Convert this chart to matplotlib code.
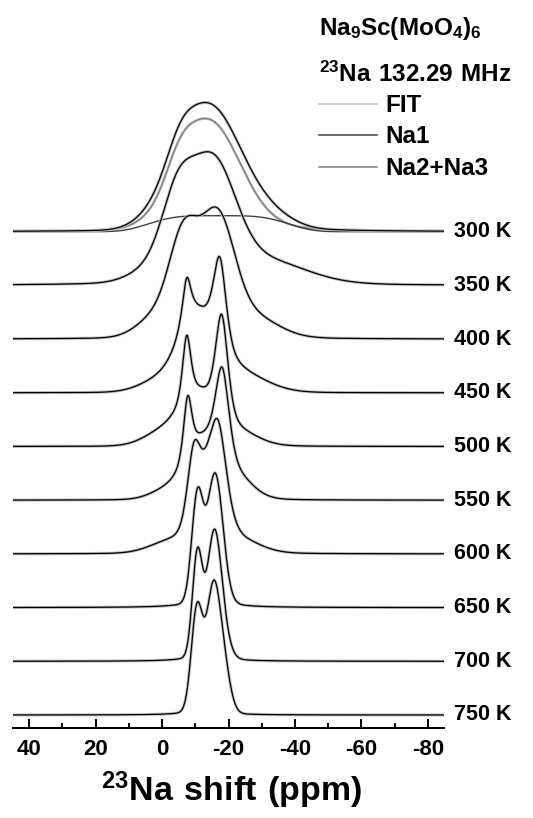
import numpy as np
import matplotlib.pyplot as plt
from matplotlib import transforms
from matplotlib.ticker import MultipleLocator

plt.rcParams['font.family'] = ['Liberation Sans', 'DejaVu Sans']
plt.rcParams['font.weight'] = 'bold'
plt.rcParams['mathtext.fontset'] = 'custom'
plt.rcParams['mathtext.bf'] = 'Liberation Sans:bold'
plt.rcParams['mathtext.rm'] = 'Liberation Sans:bold'
plt.rcParams['axes.unicode_minus'] = False

temps = [300, 350, 400, 450, 500, 550, 600, 650, 700, 750]

# line components: (shift ppm, fwhm ppm, height, lorentz fraction)
peaks_300K = [(-13.5, 22, 104, 0), (-5, 9, 18, 0), (-22, 30, 10, 1)]   # Na2+Na3 part
na1_300K = (-17, 21, 16)   # flat-topped Na1 line: centre, half width, height
peaks_350K = [(-15, 16, 108, 0), (-4.5, 11, 62, 0), (2, 16, 15, 0), (-30, 30, 22, 0), (-15, 40, 8, 1)]
peaks_400K = [(-16.5, 12, 112, 0), (-6.5, 10, 88, 0), (1, 14, 22, 0), (-27, 18, 20, 0), (-15, 30, 6, 1)]
peaks_450K = [(-11, 13, 62, 0), (-7.4, 3.5, 52, 1), (-17.4, 4.5, 85, 0.5), (-22, 20, 20, 0), (0, 15, 12, 0)]
peaks_500K = [(-11, 12, 45, 0), (-7.4, 3, 65, 0.6), (-17.95, 4.5, 105, 0.5), (-23, 14, 12, 0), (-1, 14, 15, 0)]
peaks_550K = [(-12, 11, 52, 0), (-7.7, 3, 62, 0.6), (-18.1, 5, 95, 0.5), (-22, 12, 20, 0), (-2, 12, 10, 0)]
peaks_600K = [(-14, 9, 58, 0), (-9.5, 4.5, 65, 0.3), (-17, 6, 77, 0.5), (-13, 22, 8, 0), (-24, 14, 8, 0), (-2, 14, 8, 0)]
peaks_650K = [(-10.6, 4, 103, 0), (-16, 5.5, 125, 0), (-14, 12, 10, 1)]
peaks_700K = [(-10.6, 3.5, 100, 0), (-15.7, 5, 118, 0), (-18.5, 5, 15, 0), (-13.5, 10, 9, 1)]
peaks_750K = [(-10.5, 4, 100, 0), (-15.2, 4.5, 100, 0), (-18, 5, 55, 0), (-13, 8, 10, 1)]

spectra = [peaks_300K, peaks_350K, peaks_400K, peaks_450K, peaks_500K,
           peaks_550K, peaks_600K, peaks_650K, peaks_700K, peaks_750K]


def pv(x, c, fwhm, h, eta):
    g = np.exp(-4 * np.log(2) * ((x - c) / fwhm) ** 2)
    l = 1 / (1 + (2 * (x - c) / fwhm) ** 2)
    return h * (eta * l + (1 - eta) * g)


def line_sum(x, peaks):
    return sum(pv(x, *p) for p in peaks)


ppm = np.linspace(45, -85, 1500)
step = 53.7

fig = plt.figure(figsize=(5.33, 8.18), dpi=100)
ax = fig.add_axes([12.7 / 533, (818 - 727.7) / 818, 431.6 / 533, 727.7 / 818])

n = len(temps)
trans = transforms.blended_transform_factory(ax.transAxes, ax.transData)
for i, (T, peaks) in enumerate(zip(temps, spectra)):
    off = (n - 1 - i) * step
    y = line_sum(ppm, peaks)
    if i == 0:
        c, hw, h = na1_300K
        na1 = h * np.exp(-np.log(2) * ((ppm - c) / hw) ** 4)
        na23 = y
        y = na1 + na23
        ax.plot(ppm, na23 + off, color='#c8c8c8', lw=2.0)
        ax.plot(ppm, na23 + off, color='#808080', lw=1.0)
        ax.plot(ppm, na1 + off, color='#404040', lw=1.0)
    ax.plot(ppm, y + off, color='#c0c0c0', lw=2.2)
    ax.plot(ppm, y + off, color='black', lw=0.9)
    ax.text(1.022, off, f'{T} K', transform=trans, ha='left', va='center',
            fontsize=15.5, fontweight='bold', clip_on=False)

ax.set_xlim(45, -85)
ax.set_ylim(-12.7, 715)
for s in ['left', 'right', 'top']:
    ax.spines[s].set_visible(False)
ax.spines['bottom'].set_linewidth(1.4)
ax.set_yticks([])
ax.xaxis.set_major_locator(MultipleLocator(20))
ax.xaxis.set_minor_locator(MultipleLocator(10))
ax.tick_params(axis='x', which='major', direction='in', length=6.5, width=1.4,
               labelsize=16, pad=8)
ax.tick_params(axis='x', which='minor', direction='in', length=3.6, width=1.4)
for lab in ax.get_xticklabels():
    lab.set_fontweight('bold')

fig.text(232 / 533, 1 - 790 / 818, r'$\mathbf{^{23}Na\ shift\ (ppm)}$',
         ha='center', va='center', fontsize=24.5)

# legend block
fig.text(319 / 533, 1 - 35 / 818, r'$\mathbf{Na_9Sc(MoO_4)_6}$',
         ha='left', va='baseline', fontsize=17.5)
fig.text(319 / 533, 1 - 81.7 / 818, r'$\mathbf{^{23}Na\ 132.29\ MHz}$',
         ha='left', va='baseline', fontsize=17.5)
leg_names = ['FIT', 'Na1', 'Na2+Na3']
leg_colors = ['#c8c8c8', '#505050', '#888888']
for k, (name, col) in enumerate(zip(leg_names, leg_colors)):
    yl = 104 + 31.4 * k
    fig.add_artist(plt.Line2D([319 / 533, 377 / 533], [1 - yl / 818] * 2,
                              color=col, lw=1.2))
    fig.text(385 / 533, 1 - (yl + 8) / 818, name, ha='left', va='baseline',
             fontsize=17.5, fontweight='bold')

fig.savefig('out.png', dpi=100)
